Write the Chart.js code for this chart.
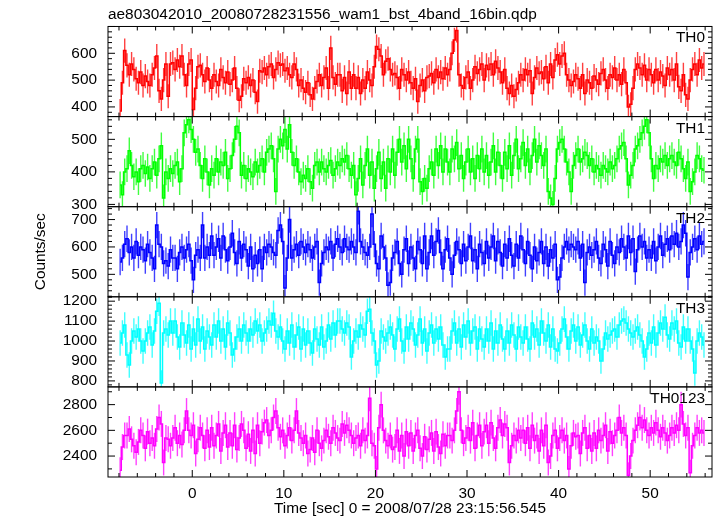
<!DOCTYPE html>
<html>
<head>
<meta charset="utf-8">
<script src="https://cdn.jsdelivr.net/npm/chart.js@4.4.0/dist/chart.umd.min.js"></script>
<style>
  html, body { margin: 0; padding: 0; background: #fff; }
  canvas { display: block; }
</style>
</head>
<body>
<canvas id="lc" width="717" height="516"></canvas>
<script>
    "use strict";

    // Light curve data: 0.25 s bins starting at -8 s
    var binStart = -8;
    var binWidth = 0.25;

    var th0 = [
        385, 490, 610, 555, 520, 560, 540, 505,
        490, 530, 480, 515, 495, 480, 520, 545,
        590, 460, 430, 500, 560, 440, 560, 565,
        540, 575, 550, 590, 520, 480, 560, 575,
        390, 470, 550, 555, 520, 495, 545, 500,
        470, 520, 495, 480, 540, 510, 490, 530,
        485, 500, 545, 470, 425, 440, 505, 490,
        510, 480, 500, 455, 420, 535, 530, 545,
        520, 550, 560, 510, 540, 565, 555, 560,
        535, 545, 520, 510, 560, 540, 480, 500,
        470, 455, 490, 445, 430, 470, 495, 520,
        480, 510, 545, 470, 620, 510, 485, 520,
        520, 460, 510, 450, 530, 470, 520, 470,
        510, 450, 500, 470, 530, 500, 480, 550,
        625, 615, 590, 520, 570, 580, 540, 520,
        525, 510, 470, 540, 520, 500, 530, 490,
        470, 505, 420, 480, 500, 460, 510, 515,
        525, 490, 540, 510, 530, 505, 545, 520,
        540, 600, 650, 685, 520, 480, 470, 510,
        530, 470, 500, 550, 525, 540, 560, 500,
        555, 540, 560, 520, 570, 545, 530, 490,
        540, 470, 450, 480, 440, 465, 490, 520,
        500, 540, 520, 535, 450, 510, 545, 525,
        530, 505, 550, 490, 560, 510, 575, 595,
        560, 590, 600, 520, 500, 480, 495, 520,
        505, 470, 520, 450, 500, 490, 470, 515,
        500, 485, 525, 540, 500, 470, 520, 510,
        545, 500, 520, 485, 540, 490, 400, 410,
        470, 540, 560, 545, 520, 555, 500, 540,
        520, 490, 540, 500, 530, 515, 480, 545,
        520, 540, 500, 560, 475, 460, 520, 445,
        430, 500, 540, 560, 520, 575, 545, 560
    ];

    var th1 = [
        360, 330, 400, 410, 465, 420, 385, 400,
        370, 410, 420, 395, 415, 380, 410, 430,
        390, 440, 480, 320, 400, 380, 410, 395,
        420, 430, 370, 410, 520, 545, 560, 530,
        500, 460, 470, 420, 380, 440, 400, 360,
        410, 390, 440, 400, 430, 420, 460, 380,
        410, 450, 500, 540, 520, 390, 420, 380,
        410, 400, 385, 430, 400, 420, 440, 400,
        460, 470, 480, 440, 340, 470, 500, 480,
        530, 470, 545, 460, 420, 440, 400, 370,
        390, 380, 410, 370, 350, 420, 430, 400,
        430, 410, 400, 420, 435, 390, 410, 430,
        420, 440, 430, 450, 410, 390, 420, 330,
        380, 440, 360, 420, 470, 390, 430, 350,
        410, 460, 380, 430, 350, 440, 400, 470,
        390, 460, 500, 430, 480, 410, 500, 440,
        380, 470, 500, 370, 340, 380, 350, 410,
        430, 390, 470, 420, 480, 400, 470, 430,
        400, 470, 440, 490, 410, 450, 380, 430,
        470, 400, 440, 380, 450, 410, 470, 400,
        450, 390, 430, 480, 400, 460, 420, 380,
        460, 410, 480, 390, 450, 500, 410, 440,
        490, 420, 470, 400, 450, 500, 430, 480,
        450, 420, 470, 340, 320, 300, 380, 470,
        490, 500, 470, 430, 400, 340, 420, 450,
        470, 430, 440, 460, 450, 420, 440, 400,
        420, 410, 390, 420, 410, 400, 430, 410,
        420, 440, 470, 480, 490, 440, 360, 390,
        420, 470, 480, 500, 520, 540, 560, 520,
        440, 380, 420, 410, 440, 430, 450, 420,
        440, 450, 430, 420, 460, 440, 410, 380,
        430, 340, 370, 400, 450, 440, 410, 405
    ];

    var th2 = [
        545, 560, 610, 630, 580, 600, 560, 620,
        570, 600, 590, 550, 610, 580, 560, 520,
        680, 610, 600, 540, 550, 530, 590, 560,
        560, 520, 580, 600, 560, 590, 610, 550,
        480, 570, 590, 560, 680, 560, 600, 570,
        640, 570, 600, 630, 560, 640, 590, 550,
        600, 650, 580, 540, 620, 560, 610, 590,
        530, 600, 520, 570, 540, 590, 520, 600,
        580, 610, 600, 580, 570, 660, 680, 620,
        450, 560, 700, 560, 590, 610, 570, 620,
        600, 580, 610, 590, 560, 600, 620, 470,
        540, 580, 600, 590, 620, 560, 610, 630,
        600, 580, 630, 600, 590, 620, 600, 580,
        730, 620, 600, 580, 570, 600, 720, 610,
        540, 520, 640, 600, 560, 460, 470, 560,
        580, 620, 540, 500, 590, 630, 540, 600,
        560, 520, 620, 590, 540, 640, 520, 580,
        640, 570, 620, 660, 580, 520, 590, 630,
        560, 500, 570, 620, 590, 540, 610, 550,
        600, 640, 550, 590, 520, 610, 580, 540,
        620, 560, 600, 640, 550, 620, 580, 530,
        610, 560, 630, 570, 530, 610, 560, 640,
        590, 540, 620, 570, 520, 600, 550, 580,
        620, 540, 600, 530, 590, 560, 610, 480,
        490, 560, 600, 620, 590, 610, 600, 590,
        620, 560, 610, 470, 580, 600, 570, 590,
        620, 560, 540, 610, 590, 530, 620, 570,
        540, 600, 580, 630, 600, 560, 640, 580,
        630, 510, 590, 640, 600, 620, 560, 590,
        560, 620, 550, 600, 640, 570, 610, 630,
        590, 640, 610, 650, 600, 620, 680, 650,
        490, 580, 600, 630, 590, 640, 610, 620
    ];

    var th3 = [
        990, 1040, 1080, 930, 880, 1000, 1050, 1020,
        1060, 1000, 950, 1000, 1040, 1070, 980, 1050,
        1150, 1190, 790, 1040, 1060, 1030, 1100, 1040,
        1100, 1020, 970, 1090, 1030, 990, 1080, 960,
        1060, 980, 1110, 1000, 1070, 960, 1050, 1020,
        980, 1080, 1020, 1100, 1000, 1060, 970, 1090,
        1040, 930, 960, 1020, 1060, 1000, 1080, 1040,
        1000, 1060, 1030, 1100, 1050, 1080, 1000, 1040,
        1060, 1100, 1080, 1140, 1050, 1020, 1070, 1000,
        960, 1050, 990, 1080, 970, 1030, 1070, 960,
        1060, 980, 1050, 990, 940, 1060, 1010, 980,
        1070, 970, 1000, 1080, 1010, 1090, 1030, 1100,
        1100, 1060, 1040, 1090, 1070, 920, 1000, 1050,
        1020, 1080, 1060, 1030, 1150, 1160, 1040, 1000,
        880, 900, 1050, 1020, 1000, 1040, 1070, 1030,
        960, 1060, 1110, 1000, 950, 1070, 1010, 1090,
        1060, 980, 1030, 1110, 990, 1060, 950, 1040,
        1080, 990, 1060, 1010, 1070, 980, 920, 960,
        960, 1050, 1090, 990, 1060, 970, 1080, 1020,
        1100, 990, 1050, 1070, 960, 1060, 1010, 970,
        1060, 1000, 1090, 960, 1050, 990, 1080, 1010,
        960, 1050, 990, 1080, 1030, 960, 1070, 1020,
        990, 1070, 1010, 960, 1090, 1020, 1060, 980,
        1100, 1040, 1000, 1080, 970, 1060, 960, 950,
        990, 1060, 1110, 1020, 960, 1050, 1080, 1000,
        1070, 980, 1030, 1080, 1000, 960, 1060, 990,
        1020, 1000, 900, 960, 1040, 1010, 1030, 1050,
        1060, 1020, 1080, 1100, 1110, 1090, 1060, 1040,
        1020, 1050, 1070, 1030, 1000, 920, 960, 1040,
        990, 1070, 980, 1040, 1090, 1060, 1120, 1030,
        1010, 1090, 1060, 1100, 990, 970, 1070, 1000,
        1060, 1000, 960, 840, 1000, 1040, 1020, 980
    ];

    var th0123 = [
        2290, 2470, 2560, 2560, 2610, 2530, 2480, 2430,
        2510, 2600, 2560, 2460, 2590, 2500, 2540, 2480,
        2610, 2700, 2650, 2350, 2540, 2530, 2480, 2540,
        2620, 2500, 2560, 2490, 2600, 2750, 2600, 2560,
        2640, 2420, 2530, 2620, 2560, 2460, 2600, 2470,
        2620, 2480, 2560, 2650, 2440, 2580, 2640, 2470,
        2580, 2480, 2640, 2450, 2540, 2650, 2600, 2460,
        2570, 2440, 2600, 2420, 2640, 2500, 2590, 2660,
        2680, 2560, 2600, 2700, 2750, 2620, 2550, 2600,
        2480, 2560, 2620, 2520, 2600, 2750, 2580, 2540,
        2500, 2560, 2420, 2450, 2540, 2430, 2600, 2500,
        2460, 2520, 2600, 2550, 2500, 2620, 2580, 2540,
        2520, 2650, 2580, 2640, 2600, 2560, 2500, 2540,
        2560, 2480, 2600, 2520, 2560, 2850, 2500, 2480,
        2300, 2620, 2800, 2600, 2520, 2480, 2560, 2450,
        2470, 2600, 2440, 2560, 2400, 2590, 2480, 2580,
        2440, 2560, 2600, 2460, 2400, 2550, 2450, 2530,
        2580, 2440, 2590, 2470, 2420, 2570, 2480, 2560,
        2560, 2520, 2600, 2750, 2900, 2600, 2500, 2540,
        2620, 2520, 2660, 2460, 2560, 2640, 2480, 2590,
        2640, 2500, 2660, 2540, 2460, 2620, 2680, 2560,
        2650, 2620, 2350, 2480, 2560, 2520, 2600, 2540,
        2600, 2500, 2620, 2460, 2640, 2520, 2560, 2440,
        2600, 2480, 2640, 2350, 2400, 2560, 2600, 2460,
        2540, 2600, 2520, 2560, 2300, 2480, 2580, 2550,
        2560, 2420, 2580, 2620, 2460, 2560, 2440, 2580,
        2460, 2600, 2520, 2560, 2640, 2440, 2590, 2500,
        2560, 2600, 2700, 2580, 2620, 2560, 2250, 2400,
        2520, 2600, 2640, 2700, 2620, 2680, 2600, 2560,
        2620, 2580, 2660, 2600, 2550, 2620, 2580, 2520,
        2560, 2620, 2580, 2640, 2600, 2800, 2650, 2560,
        2620, 2270, 2480, 2560, 2620, 2580, 2600, 2580
    ];

    var panelNames = ["TH0", "TH1", "TH2", "TH3", "TH0123"];
    var panelColors = ["#ff0000", "#00ff00", "#0000ff", "#00ffff", "#ff00ff"];
    var errors = [45, 41, 48, 64, 101];
    var yRanges = [[364, 700], [293, 570], [418, 747], [770, 1222], [2237, 2938]];
    var yLabels = [[400, 500, 600], [300, 400, 500], [500, 600, 700], [800, 900, 1000, 1100, 1200], [2400, 2600, 2800]];
    var yMajor = [100, 100, 100, 100, 200];
    var yMinor = [20, 20, 20, 20, 100];
    var xLabels = [0, 10, 20, 30, 40, 50];
    var xMajor = 10;
    var xMinor = 2;

    var series = [th0, th1, th2, th3, th0123];
    var font = { family: "'Liberation Sans', Arial, sans-serif", size: 15.4, weight: "normal" };

    Chart.defaults.color = "#000";
    Chart.defaults.font.family = font.family;
    Chart.defaults.font.size = font.size;

    var datasets = series.map(function (vals, i) {
        return {
            label: panelNames[i],
            data: vals.map(function (v, k) {
                return { x: binStart + binWidth * (k + 0.5), y: v };
            }),
            yAxisID: "y" + i,
            borderColor: panelColors[i],
            borderWidth: 1.5,
            pointRadius: 0,
            stepped: "middle",
            fill: false
        };
    });

    var scales = {
        x: {
            type: "linear",
            min: -9.2,
            max: 56.75,
            grid: { display: false, drawTicks: false },
            border: { display: false },
            ticks: { padding: 8, autoSkip: false, maxRotation: 0, font: font },
            afterBuildTicks: function (s) {
                s.ticks = xLabels.map(function (v) { return { value: v }; });
            },
            afterFit: function (s) { s.height = 39; },
            title: {
                display: true,
                text: "Time [sec] 0 = 2008/07/28 23:15:56.545",
                font: { family: font.family, size: font.size, lineHeight: 1 },
                padding: { top: 0, bottom: 0 }
            }
        }
    };

    // stacked y axes, one per panel (first in the stack is drawn at the bottom)
    for (var i = panelNames.length - 1; i >= 0; i--) {
        (function (i) {
            scales["y" + i] = {
                type: "linear",
                position: "left",
                stack: "lc",
                stackWeight: 1,
                min: yRanges[i][0],
                max: yRanges[i][1],
                grid: { display: false, drawTicks: false },
                border: { display: false },
                ticks: {
                    padding: 11,
                    autoSkip: false,
                    font: font,
                    callback: function (v) { return String(v); }
                },
                afterBuildTicks: function (s) {
                    s.ticks = yLabels[i].map(function (v) { return { value: v }; });
                },
                afterFit: function (s) { s.width = 108; },
                title: {
                    display: i === 2,
                    text: "Counts/sec",
                    font: font,
                    padding: { top: 32, bottom: 0 }
                }
            };
        })(i);
    }

    function seg(ctx, x1, y1, x2, y2) {
        ctx.beginPath();
        ctx.moveTo(x1, y1);
        ctx.lineTo(x2, y2);
        ctx.stroke();
    }

    // error bars, frames, inward ticks, panel labels
    var panelPlugin = {
        id: "panels",
        beforeDatasetsDraw: function (chart) {
            var ctx = chart.ctx;
            var xs = chart.scales.x;
            chart.data.datasets.forEach(function (ds, i) {
                var ys = chart.scales[ds.yAxisID];
                ctx.save();
                ctx.beginPath();
                ctx.rect(xs.left, ys.top, xs.right - xs.left, ys.bottom - ys.top);
                ctx.clip();
                ctx.strokeStyle = ds.borderColor;
                ctx.globalAlpha = 0.75;
                ctx.lineWidth = 1.4;
                ds.data.forEach(function (p) {
                    var px = xs.getPixelForValue(p.x);
                    seg(ctx, px, ys.getPixelForValue(p.y - errors[i]), px, ys.getPixelForValue(p.y + errors[i]));
                });
                ctx.restore();
            });
        },
        afterDraw: function (chart) {
            var ctx = chart.ctx;
            var xs = chart.scales.x;
            ctx.save();
            ctx.strokeStyle = "#000";
            ctx.lineWidth = 1;
            panelNames.forEach(function (name, i) {
                var ys = chart.scales["y" + i];
                var top = ys.top, bot = ys.bottom, l = xs.left, r = xs.right;
                ctx.strokeRect(l, top, r - l, bot - top);
                var k, v, len, px, py;
                for (k = Math.ceil(xs.min / xMinor); k * xMinor <= xs.max; k++) {
                    v = k * xMinor;
                    len = (v % xMajor === 0) ? 7 : 4;
                    px = xs.getPixelForValue(v);
                    seg(ctx, px, top, px, top + len);
                    seg(ctx, px, bot, px, bot - len);
                }
                for (k = Math.ceil(ys.min / yMinor[i]); k * yMinor[i] <= ys.max; k++) {
                    v = k * yMinor[i];
                    len = (v % yMajor[i] === 0) ? 7 : 4;
                    py = ys.getPixelForValue(v);
                    seg(ctx, l, py, l + len, py);
                    seg(ctx, r, py, r - len, py);
                }
                ctx.fillStyle = "#000";
                ctx.font = font.size + "px " + font.family;
                ctx.textAlign = "right";
                ctx.textBaseline = "top";
                ctx.fillText(name, r - 7, top + 4);
            });
            ctx.restore();
        }
    };

    new Chart(document.getElementById("lc").getContext("2d"), {
        type: "line",
        data: { datasets: datasets },
        options: {
            responsive: false,
            animation: false,
            devicePixelRatio: 1,
            layout: { padding: { left: 0, right: 5, top: 0, bottom: 0 } },
            plugins: {
                legend: { display: false },
                tooltip: { enabled: false },
                title: {
                    display: true,
                    text: "ae803042010_20080728231556_wam1_bst_4band_16bin.qdp",
                    align: "start",
                    fullSize: false,
                    color: "#000",
                    font: font,
                    padding: { top: 6, bottom: 2 }
                }
            },
            scales: scales
        },
        plugins: [panelPlugin]
    });
</script>
</body>
</html>
